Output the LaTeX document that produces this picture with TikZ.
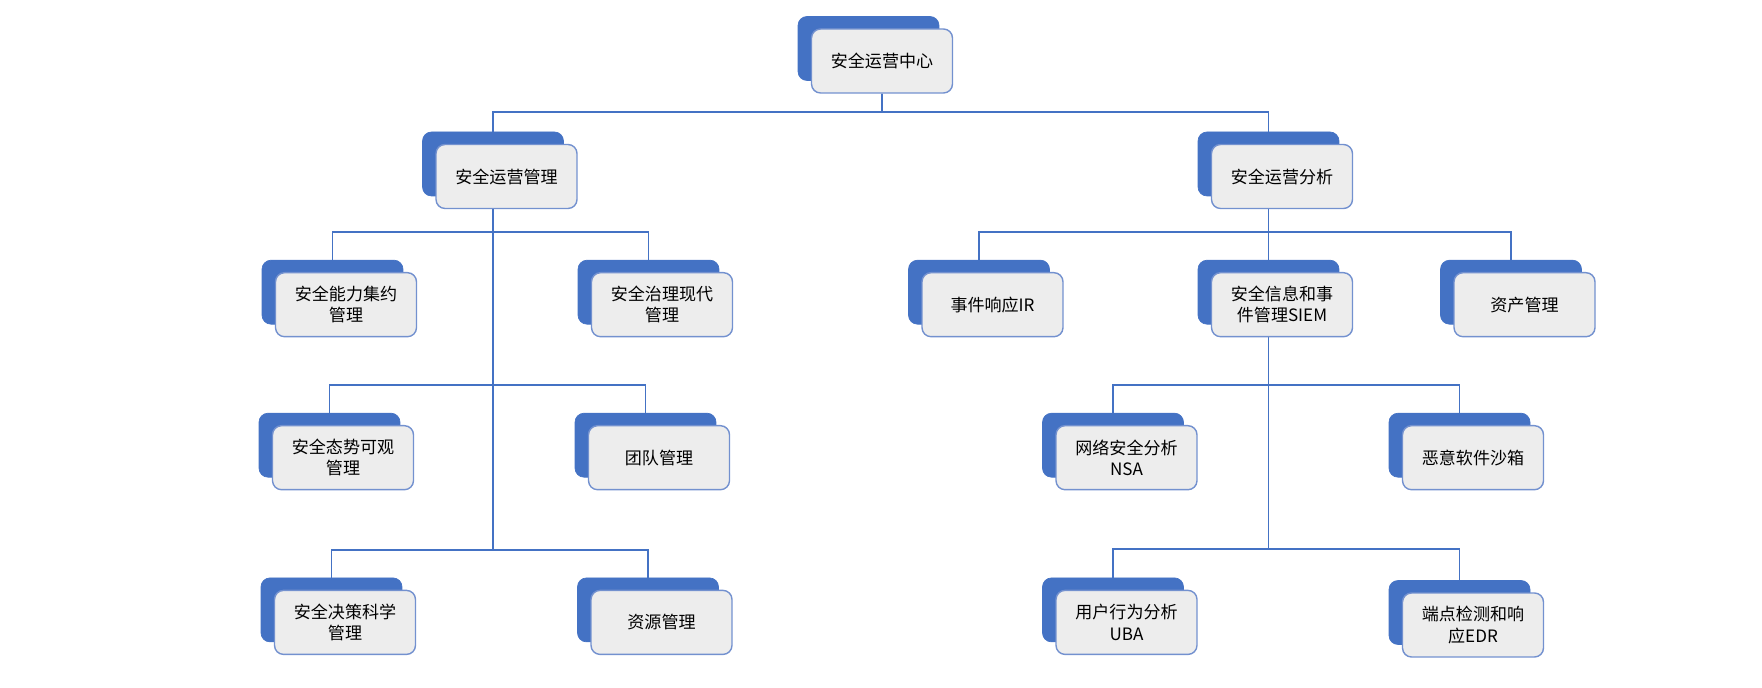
\documentclass[tikz,border=0pt]{standalone}
\usepackage{fontspec}
\setmainfont{Noto Sans CJK SC}
\usetikzlibrary{backgrounds}
\definecolor{socblue}{HTML}{4472C4}
\definecolor{socedge}{HTML}{7391CF}
\definecolor{socfill}{HTML}{EDEDED}
\tikzset{
  boxback/.style={fill=socblue, draw=socblue, rounded corners=0.18cm, minimum width=2.82cm, minimum height=1.28cm, inner sep=0pt},
  boxfront/.style={fill=socfill, draw=socedge, line width=0.8pt, rounded corners=0.18cm, minimum width=2.82cm, minimum height=1.28cm, inner sep=0pt, align=center, font=\fontsize{9.7}{12}\selectfont},
  link/.style={draw=socblue, line width=1.1pt}
}
\begin{document}
\begin{tikzpicture}[x=0.02cm, y=-0.02cm]
		\useasboundingbox (0,0) rectangle (1762,688);
		
		\node[boxback] (rootb) at (868.5,48.5) {};
		\node[boxfront] (root) at ([shift={(13.5,12.5)}]rootb) {安全运营中心};
		
		\node[boxback] (mgmtb) at (493,164) {};
		\node[boxfront] (mgmt) at ([shift={(13.5,12.5)}]mgmtb) {安全运营管理};
		\node[boxback] (anab) at (1268.5,164) {};
		\node[boxfront] (ana) at ([shift={(13.5,12.5)}]anab) {安全运营分析};
		
		\node[boxback] (capb) at (332.5,292.2) {};
		\node[boxfront] (cap) at ([shift={(13.5,12.5)}]capb) {安全能力集约\\管理};
		\node[boxback] (govb) at (648.5,292.2) {};
		\node[boxfront] (gov) at ([shift={(13.5,12.5)}]govb) {安全治理现代\\管理};
		\node[boxback] (irb) at (979,292.2) {};
		\node[boxfront] (ir) at ([shift={(13.5,12.5)}]irb) {事件响应IR};
		\node[boxback] (siemb) at (1268.5,292.2) {};
		\node[boxfront] (siem) at ([shift={(13.5,12.5)}]siemb) {安全信息和事\\件管理SIEM};
		\node[boxback] (assetb) at (1511,292.2) {};
		\node[boxfront] (asset) at ([shift={(13.5,12.5)}]assetb) {资产管理};
		
		\node[boxback] (situb) at (329.5,445.2) {};
		\node[boxfront] (situ) at ([shift={(13.5,12.5)}]situb) {安全态势可观\\管理};
		\node[boxback] (teamb) at (645.5,445.2) {};
		\node[boxfront] (team) at ([shift={(13.5,12.5)}]teamb) {团队管理};
		\node[boxback] (nsab) at (1113,445.2) {};
		\node[boxfront] (nsa) at ([shift={(13.5,12.5)}]nsab) {网络安全分析\\NSA};
		\node[boxback] (sandboxb) at (1459.5,445.2) {};
		\node[boxfront] (sandbox) at ([shift={(13.5,12.5)}]sandboxb) {恶意软件沙箱};
		
		\node[boxback] (decb) at (331.5,609.9) {};
		\node[boxfront] (dec) at ([shift={(13.5,12.5)}]decb) {安全决策科学\\管理};
		\node[boxback] (resb) at (648,609.9) {};
		\node[boxfront] (res) at ([shift={(13.5,12.5)}]resb) {资源管理};
		\node[boxback] (ubab) at (1113,609.9) {};
		\node[boxfront] (uba) at ([shift={(13.5,12.5)}]ubab) {用户行为分析\\UBA};
		\node[boxback] (edrb) at (1459.5,612.5) {};
		\node[boxfront] (edr) at ([shift={(13.5,12.5)}]edrb) {端点检测和响\\应EDR};
		
		\coordinate (bus1) at (882,112);
		\coordinate (bus2l) at (493,232);
		\coordinate (bus3l) at (493,385);
		\coordinate (bus4l) at (493,550);
		\coordinate (bus2r) at (1268.5,232);
		\coordinate (bus3r) at (1268.5,385);
		\coordinate (bus4r) at (1268.5,549);
		
		\begin{scope}[on background layer]
		\draw[link] (root.south) -- (bus1);
		\draw[link] (mgmtb.north) |- (bus1) -| (anab.north);
		
		\draw[link] (mgmtb.south) -- (bus4l);
		\draw[link] (capb.north) |- (bus2l) -| (govb.north);
		\draw[link] (situb.north) |- (bus3l) -| (teamb.north);
		\draw[link] (decb.north) |- (bus4l) -| (resb.north);
		
		\draw[link] (anab.south) -- (siemb.north);
		\draw[link] (irb.north) |- (bus2r) -| (assetb.north);
		\draw[link] (siemb.south) -- (bus4r);
		\draw[link] (nsab.north) |- (bus3r) -| (sandboxb.north);
		\draw[link] (ubab.north) |- (bus4r) -| (edrb.north);
		\end{scope}
		\end{tikzpicture}
\end{document}
